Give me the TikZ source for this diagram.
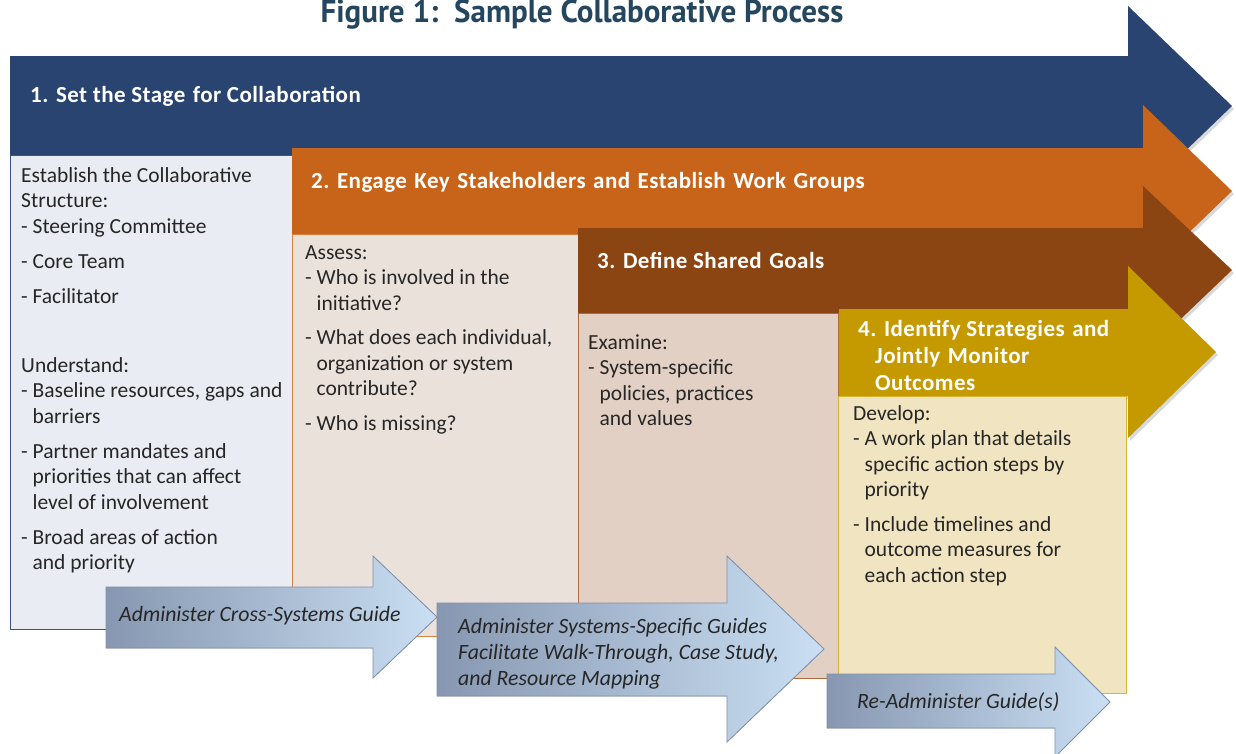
\documentclass[tikz,border=0pt]{standalone}
\usepackage{fontspec}
\setmainfont{Carlito}
\newfontfamily\headfont{PT Sans}
\usetikzlibrary{shadows}

\definecolor{navyarrow}{HTML}{294470}
\definecolor{orangearrow}{HTML}{C8641A}
\definecolor{brownarrow}{HTML}{8B4513}
\definecolor{goldarrow}{HTML}{C49A00}
\definecolor{stageback}{HTML}{E9ECF2}
\definecolor{engageback}{HTML}{EBE1DB}
\definecolor{goalsback}{HTML}{E2D0C4}
\definecolor{monitorback}{HTML}{F1E4C1}
\definecolor{stageline}{HTML}{3A5283}
\definecolor{engageline}{HTML}{D98040}
\definecolor{goalsline}{HTML}{B06A3A}
\definecolor{monitorline}{HTML}{D8B432}
\definecolor{guidedark}{HTML}{8797B1}
\definecolor{guidelight}{HTML}{CADFF3}
\definecolor{guideline}{HTML}{7F90AA}
\definecolor{titleblue}{HTML}{25465F}
\definecolor{bodytext}{HTML}{262626}

\newcommand\ind{\phantom{-\ }}
\newcommand\wsp{\hspace{7.5pt}}

\begin{document}
\begin{tikzpicture}[x=1pt,y=-1pt,
  bodytxt/.style={anchor=north west,inner sep=0,align=left,text=bodytext,
    font=\fontsize{21.5}{25.5}\selectfont,execute at begin node=\strut},
  headtxt/.style={anchor=north west,inner sep=0,align=left,text=white,
    font=\fontsize{23}{27}\selectfont\bfseries\addfontfeatures{LetterSpace=2},execute at begin node=\strut},
  guidetxt/.style={anchor=north west,inner sep=0,align=left,text=black!85,
    font=\fontsize{21.8}{26}\selectfont\itshape,execute at begin node=\strut},
  softshadow/.style={drop shadow={opacity=0.3,shadow xshift=2pt,shadow yshift=-3pt}},
  guidearrow/.style={left color=guidedark,right color=guidelight,draw=guideline,line width=0.8pt}]
\useasboundingbox (0,0) rectangle (1236,753);

\node[anchor=base,text=titleblue] (figtitle) at (582,22)
  {\scalebox{0.97}[1]{\headfont\bfseries\fontsize{32}{34}\selectfont Figure 1:\ \ Sample Collaborative Process}};

% step 1
\fill[navyarrow,softshadow] (10,56) -- (1128,56) -- (1128,6) -- (1232,106) -- (1128,206) -- (1128,155) -- (10,155) -- cycle;
\filldraw[fill=stageback,draw=stageline,line width=0.8pt] (10,155) rectangle (292,629);
\node[headtxt] (stagehead) at (30,83) {1. Set the Stage\wsp for Collaboration};
\node[bodytxt] (stagebody) at (21,167) {Establish the Collaborative\\
Structure:\\
- Steering Committee\\[9.5pt]
- Core Team\\[9.5pt]
- Facilitator\\[43.5pt]
Understand:\\
- Baseline resources, gaps and\\
\ind barriers\\[9.5pt]
- Partner mandates and\\
\ind priorities that can affect\\
\ind level of involvement\\[9.5pt]
- Broad areas of action\\
\ind and priority};

% step 2
\fill[orangearrow,softshadow] (292,148) -- (1143,148) -- (1143,105) -- (1232,191) -- (1143,277) -- (1143,234) -- (292,234) -- cycle;
\filldraw[fill=engageback,draw=engageline,line width=0.8pt] (292,234) rectangle (578,636);
\node[headtxt] (engagehead) at (311,169) {2. Engage\wsp Key\wsp Stakeholders\wsp and\wsp Establish\wsp Work\wsp Groups};
\node[bodytxt] (engagebody) at (305,245) {Assess:\\
- Who is involved in the\\
\ind initiative?\\[9pt]
- What does each individual,\\
\ind organization or system\\
\ind contribute?\\[9pt]
- Who is missing?};

% step 3
\fill[brownarrow,softshadow] (578,228) -- (1143,228) -- (1143,186) -- (1232,270) -- (1143,355) -- (1143,313) -- (578,313) -- cycle;
\filldraw[fill=goalsback,draw=goalsline,line width=0.8pt] (578,313) rectangle (838,678);
\node[headtxt] (goalshead) at (597,249) {3. Define Shared\wsp Goals};
\node[bodytxt] (goalsbody) at (588,334) {Examine:\\
- System-specific\\
\ind policies, practices\\
\ind and values};

% step 4
\fill[goldarrow,softshadow] (839,309) -- (1128,309) -- (1128,266) -- (1216,352) -- (1128,438) -- (1128,396) -- (839,396) -- cycle;
\filldraw[fill=monitorback,draw=monitorline,line width=0.8pt] (838,396) rectangle (1126,693);
\node[headtxt] (monitorhead) at (858,320) {4. Identify Strategies\wsp and\\
\hspace*{17pt}Jointly\wsp Monitor\\
\hspace*{17pt}Outcomes};
\node[bodytxt] (monitorbody) at (853,405) {Develop:\\
- A work plan that details\\
\ind specific action steps by\\
\ind priority\\[9pt]
- Include timelines and\\
\ind outcome measures for\\
\ind each action step};

% guides
\filldraw[guidearrow] (106,587) -- (373,587) -- (373,556) -- (437,617) -- (373,678) -- (373,648) -- (106,648) -- cycle;
\node[guidetxt] (crossguide) at (119,603) {Administer Cross-Systems Guide};

\filldraw[guidearrow] (437,603) -- (727,603) -- (727,556) -- (824,649) -- (727,742) -- (727,696) -- (437,696) -- cycle;
\node[guidetxt] (specguide) at (458,618) {Administer Systems-Specific Guides\\
Facilitate Walk-Through, Case Study,\\
and Resource Mapping};

\filldraw[guidearrow] (827,674) -- (1055,674) -- (1055,647) -- (1110,702) -- (1055,757) -- (1055,728) -- (827,728) -- cycle;
\node[guidetxt] (reguide) at (857,690) {Re-Administer Guide(s)};
\end{tikzpicture}
\end{document}
